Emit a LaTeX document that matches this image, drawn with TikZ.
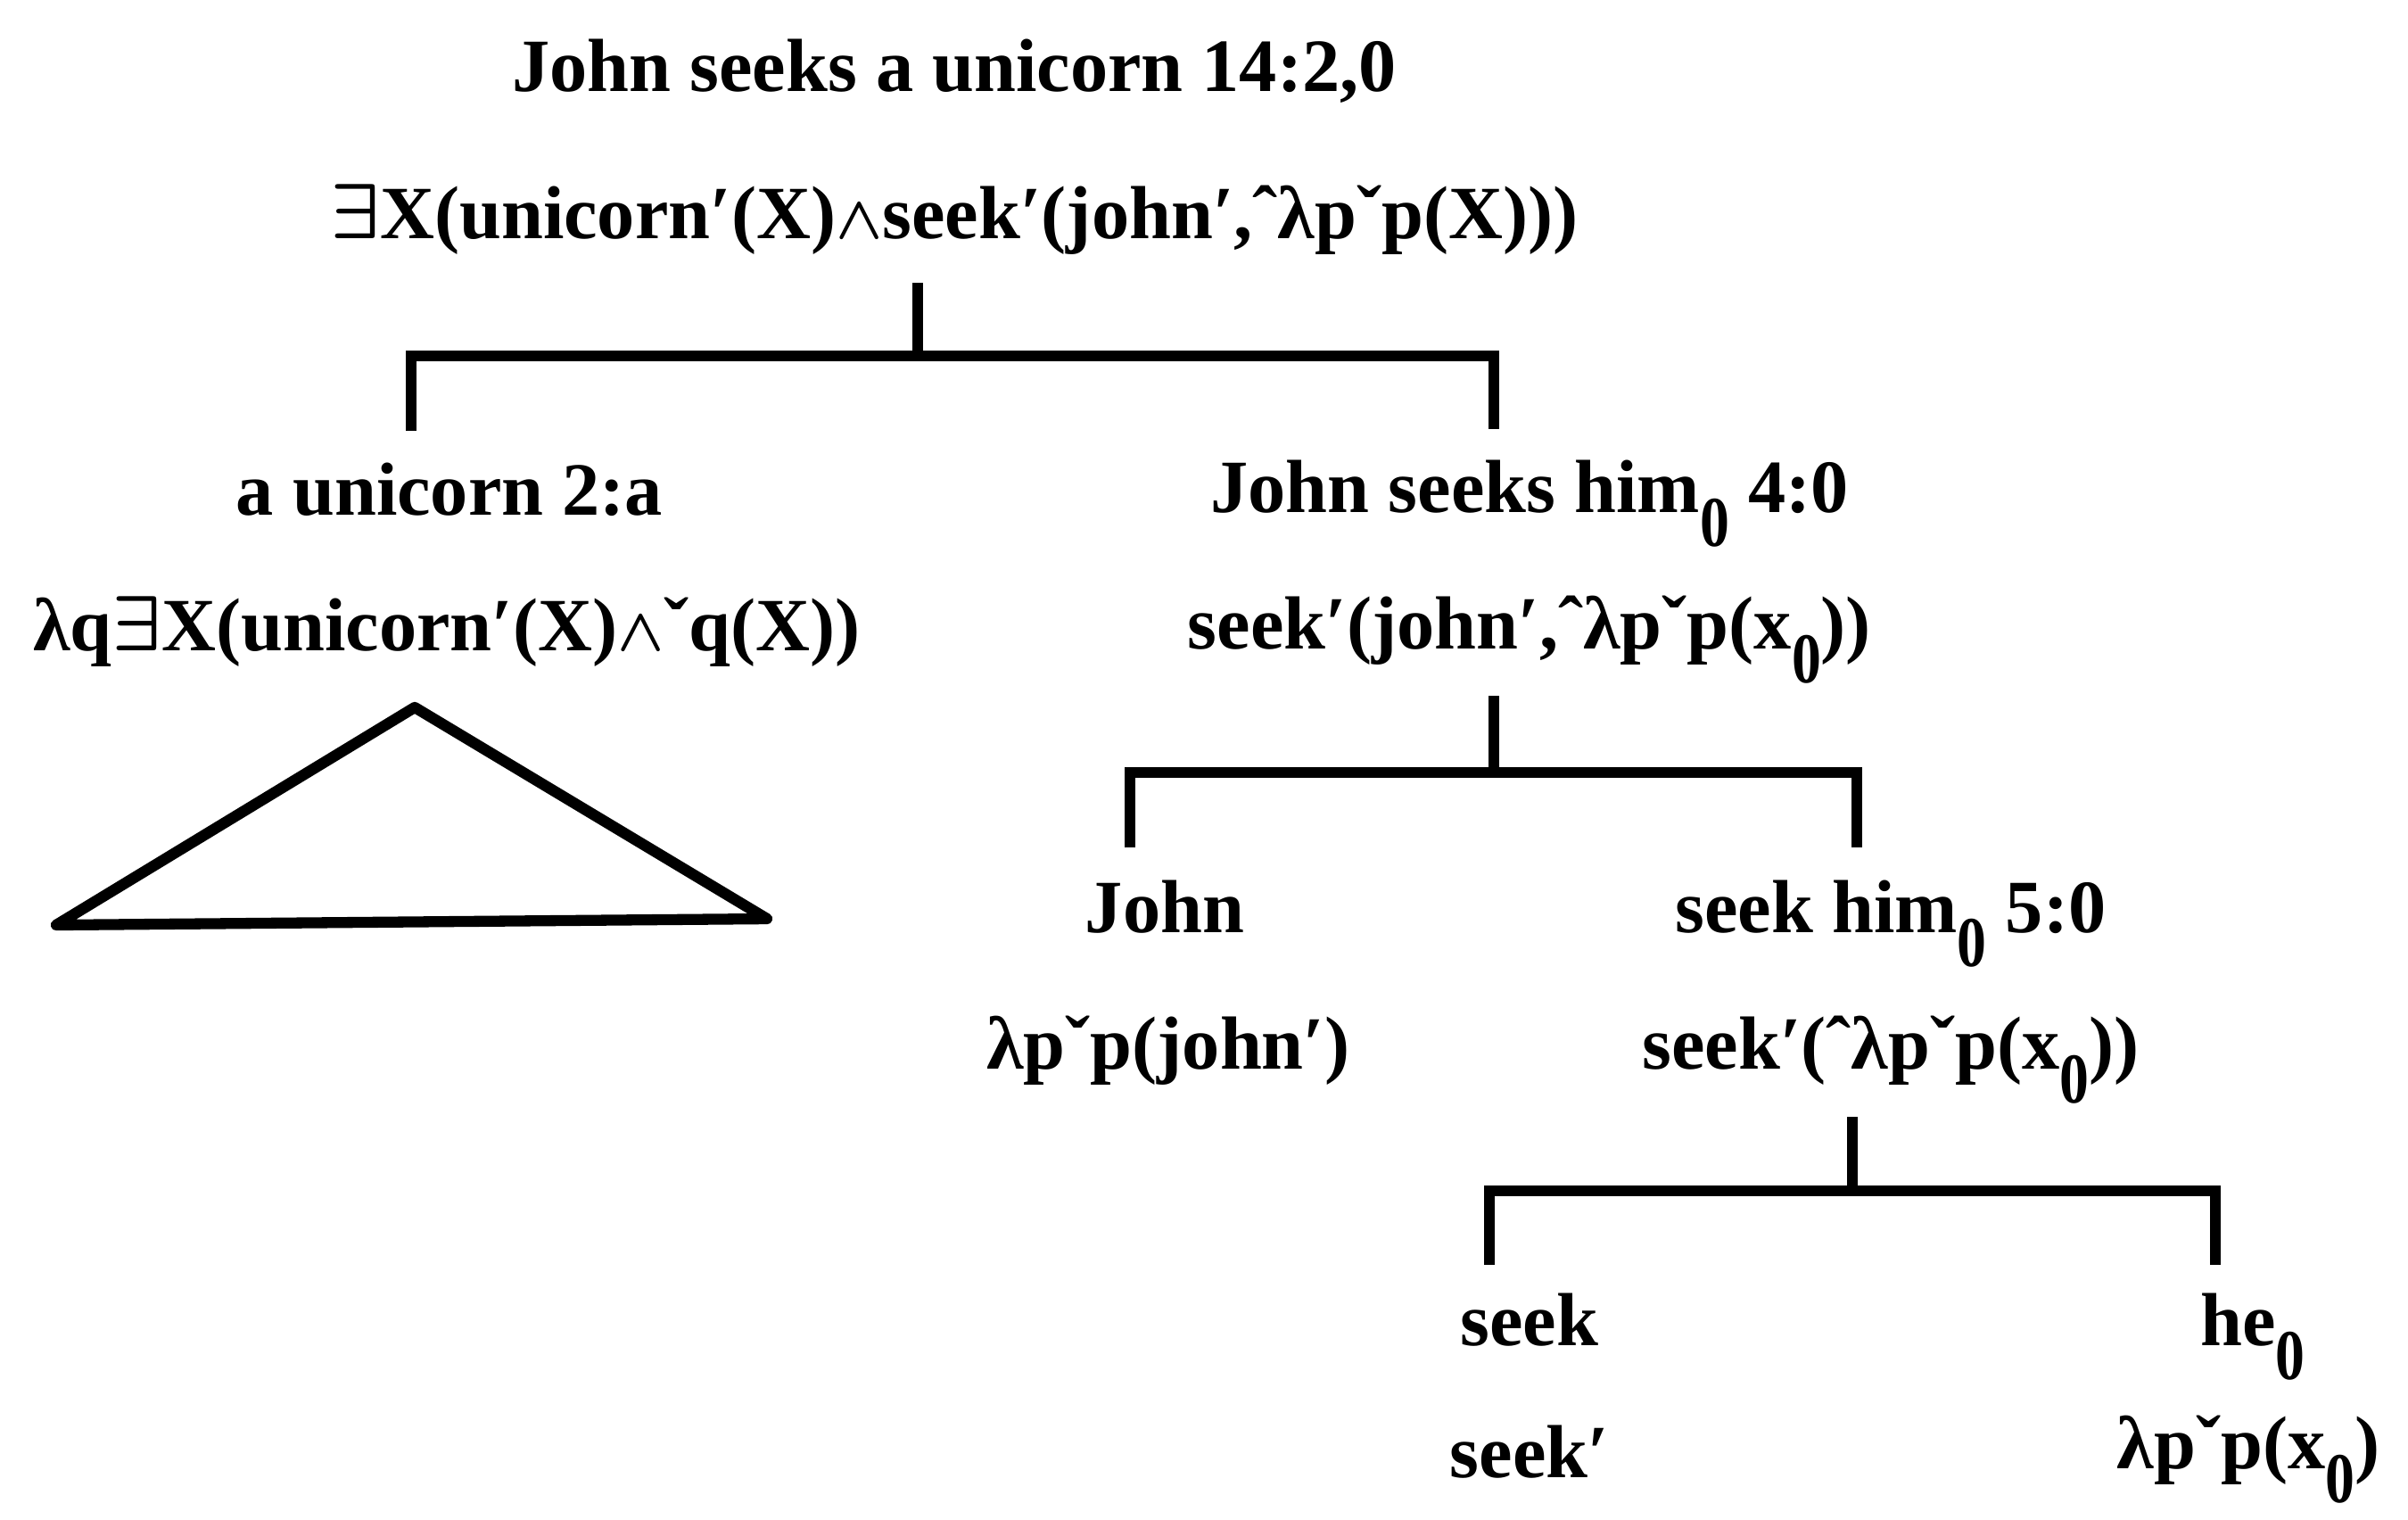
\documentclass[tikz,border=0pt]{standalone}
\usepackage{fontspec}
\setmainfont{Liberation Serif}
\usepackage{graphicx}
\usetikzlibrary{calc}
\newcommand\subz{\raisebox{-0.46em}{\scalebox{0.78}[0.95]{0}}}
\newcommand\wdg{\scalebox{0.78}{\boldmath$\wedge$}}
\newcommand\exq{{\boldmath$\exists$}}
\tikzset{
  syn/.style={anchor=base, inner sep=0pt, font=\bfseries\fontsize{24}{28}\selectfont},
  sem/.style={anchor=base, inner sep=0pt, font=\bfseries\fontsize{24}{28}\selectfont},
  branch/.style={line width=3.5pt},
  leaf/.style={line width=3.5pt, line join=round}
}

\begin{document}
\begin{tikzpicture}
  \useasboundingbox (0,0) rectangle (27,-17.03);
  % root
  \node[syn] (s0) at (10.70,-1.02) {John seeks a unicorn 14:2,0};
  \node[sem] (f0) at (10.70,-2.67) {\exq X(unicorn′(X)\wdg seek′(john′,ˆλpˇp(X)))};
  % level 1
  \node[syn] (s1a) at (5.04,-5.77) {a unicorn 2:a};
  \node[sem] (f1a) at (5.01,-7.29) {λq\exq X(unicorn′(X)\wdg ˇq(X))};
  \node[syn] (s1b) at (17.15,-5.74) {John seeks him\subz\ 4:0};
  \node[sem] (f1b) at (17.15,-7.27) {seek′(john′,ˆλpˇp(x\subz))};
  % level 2
  \node[syn] (s2a) at (13.06,-10.45) {John};
  \node[sem] (f2a) at (13.10,-11.98) {λpˇp(john′)};
  \node[syn] (s2b) at (21.20,-10.45) {seek him\subz\ 5:0};
  \node[sem] (f2b) at (21.20,-11.98) {seek′(ˆλpˇp(x\subz))};
  % level 3
  \node[syn] (s3a) at (17.15,-15.08) {seek};
  \node[sem] (f3a) at (17.15,-16.56) {seek′};
  \node[syn] (s3b) at (25.26,-15.08) {he\subz};
  \node[sem] (f3b) at (25.21,-16.46) {λpˇp(x\subz)};

  \draw[branch] ([xshift=-4.1mm,yshift=-5mm]f0.base) -- ([xshift=-4.1mm,yshift=-13.2mm]f0.base) coordinate (k0);
  \draw[branch] ([xshift=-4.3mm,yshift=9.4mm]s1a.base) |- (k0) -| ([xshift=-4mm,yshift=9.3mm]s1b.base);
  \draw[leaf] ([xshift=-3.6mm,yshift=-6.4mm]f1a.base) -- ++(-4.02,-2.44) -- ++(7.97,0.07) -- cycle;

  \draw[branch] ([xshift=-4mm,yshift=-5.3mm]f1b.base) -- ([xshift=-4mm,yshift=-13.9mm]f1b.base) coordinate (k1);
  \draw[branch] ([xshift=-3.9mm,yshift=9.5mm]s2a.base) |- (k1) -| ([xshift=-3.8mm,yshift=9.5mm]s2b.base);

  \draw[branch] ([xshift=-4.3mm,yshift=-5.4mm]f2b.base) -- ([xshift=-4.3mm,yshift=-13.7mm]f2b.base) coordinate (k2);
  \draw[branch] ([xshift=-4.5mm,yshift=9mm]s3a.base) |- (k2) -| ([xshift=-4.2mm,yshift=9mm]s3b.base);
\end{tikzpicture}
\end{document}
